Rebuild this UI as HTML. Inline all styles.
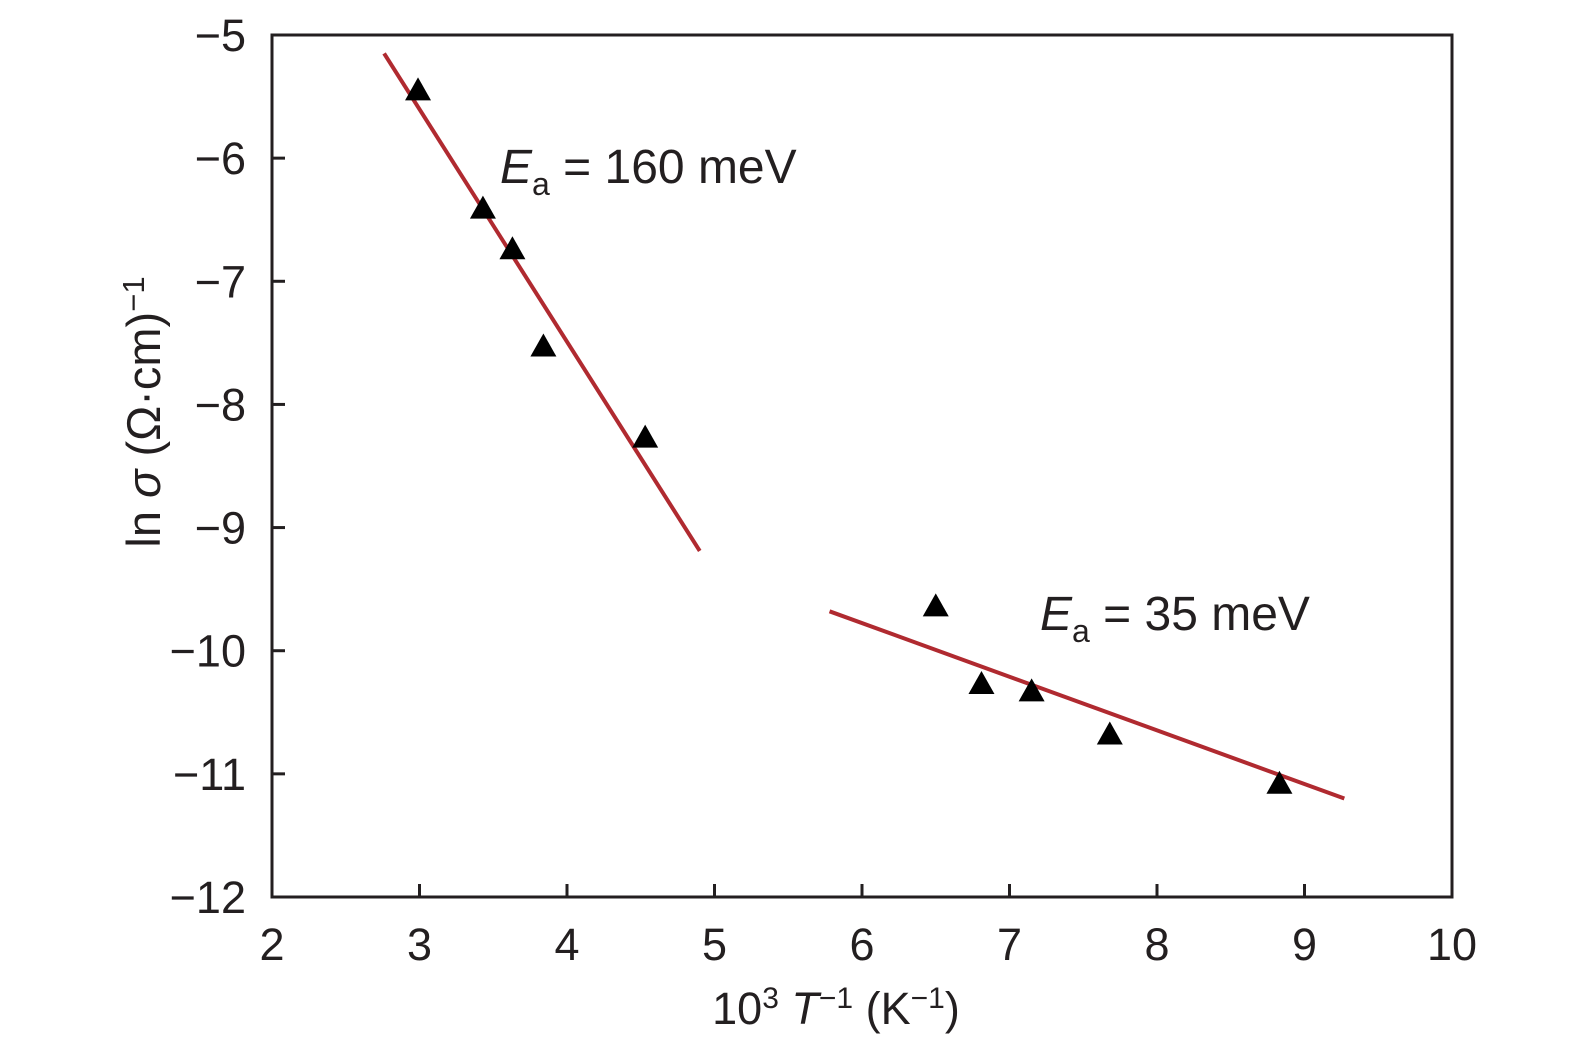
<!DOCTYPE html>
<html><head><meta charset="utf-8"><style>
html,body{margin:0;padding:0;background:#fff;}
body{position:relative;}
#chart{position:absolute;left:0;top:0}
svg text{font-family:"Liberation Sans","DejaVu Sans",sans-serif;fill:#231f20;}
</style></head><body>
<svg id="chart" width="1575" height="1043" viewBox="0 0 1575 1043" xmlns="http://www.w3.org/2000/svg">
</svg>
<script>
const xTicks=[2,3,4,5,6,7,8,9,10];
const yTicks=[-5,-6,-7,-8,-9,-10,-11,-12];
const xs=[2.99,3.43,3.63,3.84,4.53,6.50,6.81,7.15,7.68,8.83];
const ys=[-5.45,-6.41,-6.74,-7.53,-8.27,-9.64,-10.27,-10.33,-10.68,-11.08];
const fit1X=[2.76,4.90];
const fit1Y=[-5.15,-9.19];
const fit2X=[5.78,9.27];
const fit2Y=[-9.68,-11.20];
const L=272,R=1452,T=35,B=897;
const X=v=>L+(v-2)/8*(R-L);
const Y=v=>T+(-5-v)/7*(B-T);
const NS='http://www.w3.org/2000/svg';
const svg=document.getElementById('chart');
function mk(tag,attrs,parent){const e=document.createElementNS(NS,tag);for(const k in attrs)e.setAttribute(k,attrs[k]);(parent||svg).appendChild(e);return e;}
let fr=mk('rect',{x:L,y:T,width:R-L,height:B-T,fill:'none',stroke:'#231f20','stroke-width':3});


xTicks.forEach(t=>{
  if(t>2&&t<10){let tk=mk('line',{x1:X(t),x2:X(t),y1:B,y2:B-13,stroke:'#231f20','stroke-width':3});
  
  }
  let tx=mk('text',{x:X(t),y:B+63,'font-size':45,'text-anchor':'middle'});tx.textContent=t;
  
  
});
yTicks.forEach(t=>{
  if(t>-12&&t<-5){let tk=mk('line',{x1:L,x2:L+13,y1:Y(t),y2:Y(t),stroke:'#231f20','stroke-width':3});
  
  }
  let tx=mk('text',{x:L-26,y:Y(t)+16,'font-size':45,'text-anchor':'end'});tx.textContent='\u2212'+(-t);
  
  
});
[[fit1X,fit1Y,'fit-line-160mev'],[fit2X,fit2Y,'fit-line-35mev']].forEach(f=>{
  let l=mk('line',{x1:X(f[0][0]),y1:Y(f[1][0]),x2:X(f[0][1]),y2:Y(f[1][1]),stroke:'#b02a30','stroke-width':4});
  
  
});
xs.forEach((v,i)=>{
  const cx=X(v),cy=Y(ys[i]);
  let p=mk('polygon',{points:`${cx},${cy-13} ${cx-13},${cy+10} ${cx+13},${cy+10}`,fill:'#000'});
  
  
});
</script>
<svg style="position:absolute;left:0;top:0" width="1575" height="1043">
<text x="500" y="183" font-size="48"><tspan font-style="italic">E</tspan><tspan font-size="32" dy="12">a</tspan><tspan dy="-12"> = 160 meV</tspan></text>
<text x="1040" y="630" font-size="48"><tspan font-style="italic">E</tspan><tspan font-size="32" dy="12">a</tspan><tspan dy="-12"> = 35 meV</tspan></text>
<text x="836" y="1024" font-size="45" text-anchor="middle">10<tspan font-size="30" dy="-16">3</tspan><tspan dy="16"> </tspan><tspan font-style="italic">T</tspan><tspan font-size="30" dy="-16">−1</tspan><tspan dy="16"> (K</tspan><tspan font-size="30" dy="-16">−1</tspan><tspan dy="16">)</tspan></text>
<text transform="translate(160,412) rotate(-90)" font-size="47" text-anchor="middle">ln <tspan font-style="italic">σ</tspan> (Ω·cm)<tspan font-size="31" dy="-16">−1</tspan></text>
</svg>
</body></html>
